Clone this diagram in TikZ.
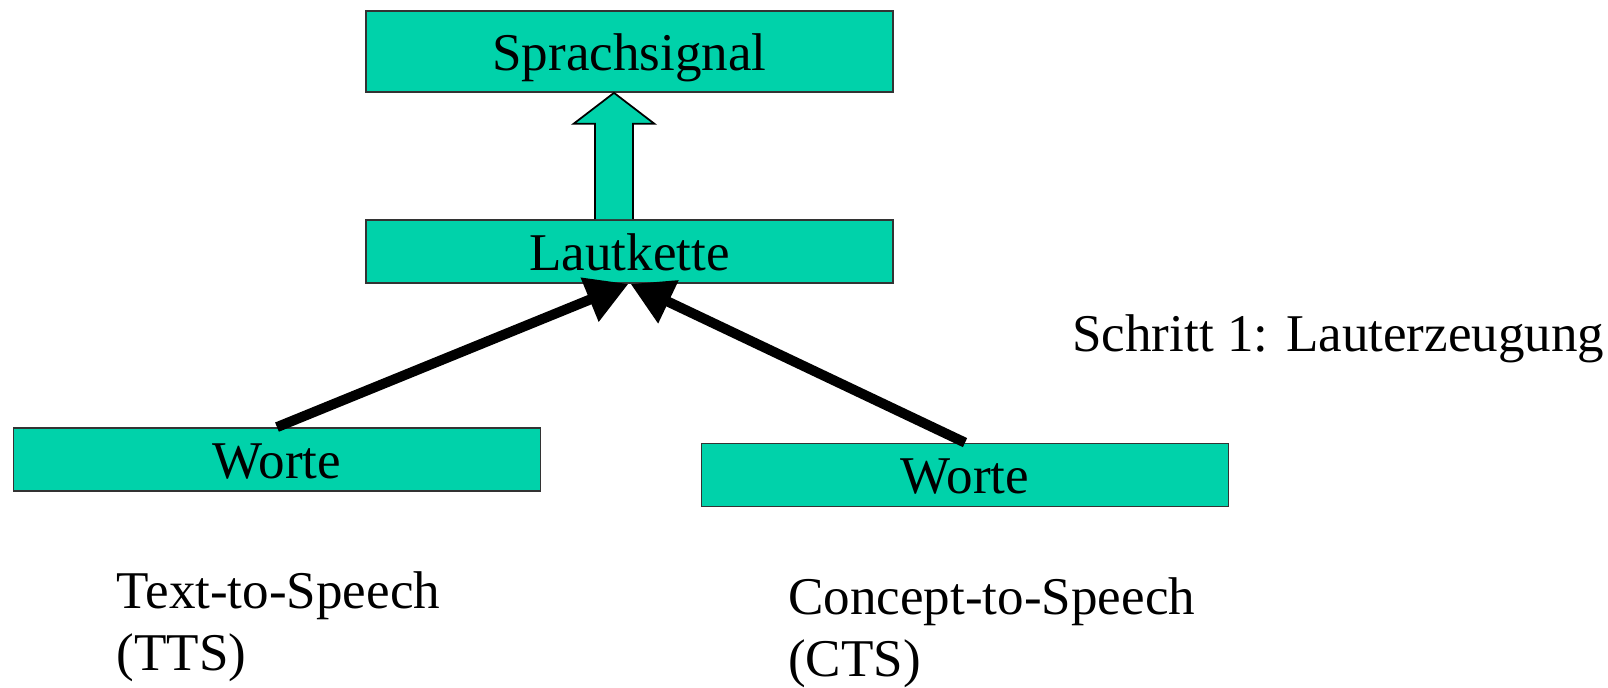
\documentclass[tikz,border=0pt]{standalone}
\usepackage[dvipsnames]{xcolor}
\usepackage{fontspec}
\setmainfont{Liberation Serif}
\usepackage{tikz}
\usetikzlibrary{arrows.meta, calc}
\definecolor{stagegreen}{RGB}{0,210,170}

\begin{document}
\begin{tikzpicture}[font=\fontsize{15.1pt}{17.5pt}\selectfont]
  \tikzstyle{stage}=[draw=black!80, line width=0.5pt, fill=stagegreen, minimum width=5.27cm, inner sep=0pt, text height=0.38cm, text depth=0pt]
  \tikzstyle{link}=[line width=1mm, -{Triangle[length=4.2mm,width=4.5mm]}]
  \tikzstyle{note}=[inner sep=0pt, align=left]
  \useasboundingbox (0,0) rectangle (16.08,6.88);
  \node[stage, minimum height=0.81cm] (G_sig) at (6.295,6.365) {Sprachsignal};
  \node[stage, minimum height=0.63cm] (G_laut) at (6.295,4.365) {Lautkette};
  \node[stage, minimum height=0.63cm] (G_tts) at (2.77,2.285) {Worte};
  \node[stage, minimum height=0.63cm] (G_cts) at (9.65,2.13) {Worte};
  % hollow block arrow
  \coordinate (A_tip) at ($(G_sig.south)+(-0.155,0)$);
  \coordinate (A_foot) at ($(G_laut.north)+(-0.155,0)$);
  \draw[draw=black, line width=0.5pt, fill=stagegreen]
    ($(A_foot)+(-0.19,0)$) -- ($(A_tip)+(-0.19,-0.31)$) -- ($(A_tip)+(-0.405,-0.31)$)
    -- (A_tip) -- ($(A_tip)+(0.405,-0.31)$) -- ($(A_tip)+(0.19,-0.31)$) -- ($(A_foot)+(0.19,0)$);
  \draw[link] (G_tts.north) -- ($(G_laut.south)+(-0.01,0)$);
  \draw[link] (G_cts.north) -- ($(G_laut.south)+(0.01,0)$);
  \node[note, anchor=base west] (T_step) at (10.716,3.36) {Schritt 1: Lauterzeugung};
  \node[note, anchor=north west] (T_tts) at (1.16,1.17) {Text-to-Speech\\(TTS)};
  \node[note, anchor=north west] (T_cts) at (7.876,1.11) {Concept-to-Speech\\(CTS)};
\end{tikzpicture}
\end{document}
